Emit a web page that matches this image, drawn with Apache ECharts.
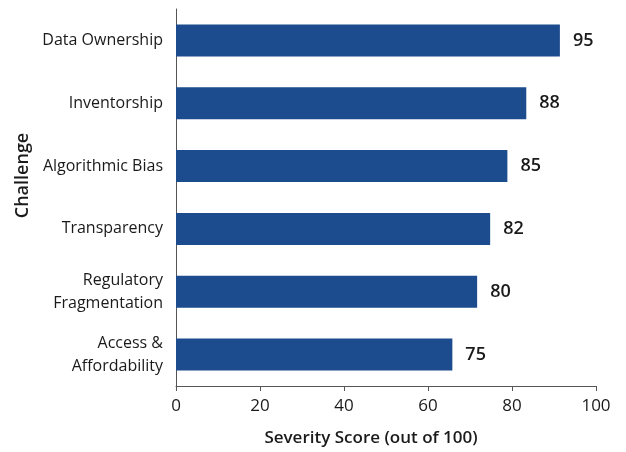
<!DOCTYPE html>
<html>
<head>
<meta charset="utf-8">
<script src="https://cdn.jsdelivr.net/npm/echarts@6/dist/echarts.min.js"></script>
<style>html,body{margin:0;padding:0;background:#fff}#c{width:626px;height:452px}</style>
</head>
<body>
<div id="c"></div>
<script>
var categories = ['Data Ownership', 'Inventorship', 'Algorithmic Bias', 'Transparency', 'Regulatory\nFragmentation', 'Access &\nAffordability'];
var barValues = [91.4, 83.4, 78.9, 74.8, 71.7, 65.8];
var labelValues = [95, 88, 85, 82, 80, 75];
var xTicks = [0, 20, 40, 60, 80, 100];

var chart = echarts.init(document.getElementById('c'), null, {renderer: 'canvas'});
var font = '"Open Sans", "Noto Sans", sans-serif';
chart.setOption({
  animation: false,
  textStyle: {fontFamily: font},
  grid: {left: 176, right: 30, top: 9, bottom: 64, containLabel: false},
  xAxis: {
    type: 'value', min: 0, max: 100, interval: 20,
    name: 'Severity Score (out of 100)', nameLocation: 'middle', nameGap: 44,
    nameTextStyle: {fontSize: 17, fontWeight: 600, color: '#1a1a1a', fontFamily: font, padding: [0, 30, 0, 0]},
    axisLine: {show: true, lineStyle: {color: '#555', width: 1}},
    axisTick: {show: true, length: 5, lineStyle: {color: '#555'}},
    axisLabel: {fontSize: 17, color: '#1a1a1a', margin: 12, fontFamily: font,
      formatter: function (v) { return xTicks.indexOf(v) >= 0 ? String(v) : ''; }},
    splitLine: {show: false}
  },
  yAxis: {
    type: 'category', data: categories, inverse: true,
    name: 'Challenge', nameLocation: 'middle', nameGap: 142, nameRotate: 90,
    nameTextStyle: {fontSize: 18, fontWeight: 600, color: '#1a1a1a', fontFamily: font, padding: [0, 0, 0, 44]},
    axisLine: {show: true, lineStyle: {color: '#555', width: 1}},
    axisTick: {show: false},
    axisLabel: {fontSize: 16, color: '#1a1a1a', margin: 13, lineHeight: 23, align: 'right', fontFamily: font}
  },
  series: [{
    type: 'bar',
    data: barValues,
    barWidth: 32,
    itemStyle: {color: '#1c4b8e'},
    label: {
      show: true, position: 'right', distance: 13,
      fontSize: 18, fontWeight: 600, color: '#1a1a1a', fontFamily: font,
      formatter: function (p) { return String(labelValues[p.dataIndex]); }
    }
  }]
});
</script>
</body>
</html>
